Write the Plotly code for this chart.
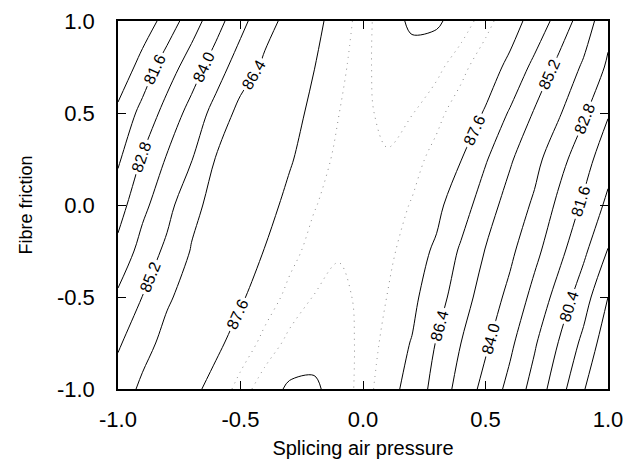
import plotly.graph_objects as go

# Axes (coded factor levels)
pressure = [-1.0, -0.9, -0.8, -0.7, -0.6, -0.5, -0.4, -0.3, -0.2, -0.1, 0.0,
            0.1, 0.2, 0.3, 0.4, 0.5, 0.6, 0.7, 0.8, 0.9, 1.0]
friction = [-1.0, -0.75, -0.5, -0.25, 0.0, 0.25, 0.5, 0.75, 1.0]

# Response values, one list per friction level
resp_f_m100 = [85.84, 86.6, 87.0, 87.38, 87.9, 88.36, 88.66, 88.85, 88.85, 88.68, 88.39,
               87.95, 87.25, 85.92, 84.77, 83.61, 82.45, 81.15, 79.68, 78.1, 76.47]
resp_f_m075 = [85.03, 86.05, 86.7, 87.0, 87.42, 87.94, 88.33, 88.58, 88.68, 88.63, 88.43,
               88.08, 87.55, 86.33, 85.2, 84.19, 83.04, 81.74, 80.34, 78.9, 77.27]
resp_f_m050 = [84.21, 85.22, 86.27, 86.78, 87.05, 87.5, 87.98, 88.32, 88.51, 88.56, 88.45,
               88.19, 87.85, 86.95, 85.71, 84.69, 83.69, 82.43, 81.14, 79.74, 78.0]
resp_f_m025 = [83.13, 84.46, 85.47, 86.47, 86.88, 87.17, 87.63, 88.06, 88.35, 88.48, 88.46,
               88.30, 88.0, 87.45, 86.22, 85.15, 84.25, 83.13, 81.94, 80.65, 79.14]
resp_f_000 = [82.29, 83.69, 84.79, 86.1, 86.75, 87.05, 87.33, 87.8, 88.17, 88.40, 88.47,
              88.40, 88.17, 87.85, 87.0, 85.73, 84.74, 83.81, 82.53, 81.42, 80.13]
resp_f_p025 = [81.42, 82.92, 84.1, 85.14, 86.46, 86.86, 87.2, 87.52, 87.98, 88.30, 88.46,
               88.48, 88.35, 88.06, 87.63, 86.52, 85.34, 84.37, 83.22, 82.09, 80.89]
resp_f_p050 = [80.7, 81.95, 83.25, 84.41, 85.65, 86.75, 87.02, 87.3, 87.79, 88.19, 88.45,
               88.56, 88.51, 88.32, 87.98, 87.54, 86.26, 85.1, 84.12, 82.97, 81.7]
resp_f_p075 = [79.44, 80.91, 82.2, 83.4, 84.6, 85.83, 86.6, 87.05, 87.58, 88.08, 88.43,
               88.63, 88.68, 88.58, 88.33, 87.93, 87.44, 86.04, 84.9, 83.83, 82.62]
resp_f_p100 = [79.25, 79.64, 80.92, 82.23, 83.53, 84.81, 86.05, 86.7, 87.36, 87.95, 88.39,
               88.68, 88.85, 88.85, 88.66, 88.36, 87.9, 87.33, 85.87, 84.67, 83.18]

response = [resp_f_m100, resp_f_m075, resp_f_m050, resp_f_m025, resp_f_000,
            resp_f_p025, resp_f_p050, resp_f_p075, resp_f_p100]

tick_vals = [-1.0, -0.5, 0.0, 0.5, 1.0]
tick_text = ["-1.0", "-0.5", "0.0", "0.5", "1.0"]

FONT = "Liberation Sans, Arial, sans-serif"

fig = go.Figure()

# labelled levels
fig.add_trace(go.Contour(
    x=pressure, y=friction, z=response, showscale=False,
    contours=dict(start=80.4, end=87.6, size=1.2, coloring="none",
                  showlabels=True, labelformat=".1f",
                  labelfont=dict(size=16, color="black", family=FONT)),
    line=dict(color="black", width=1), hoverinfo="skip"))

# unlabelled outer levels
fig.add_trace(go.Contour(
    x=pressure, y=friction, z=response, showscale=False,
    contours=dict(start=78.0, end=79.2, size=1.2, coloring="none"),
    line=dict(color="black", width=1), hoverinfo="skip"))

# small closed regions at the ridge ends
fig.add_trace(go.Contour(
    x=pressure, y=friction, z=response, showscale=False,
    contours=dict(start=88.8, end=88.8, size=1.0, coloring="none"),
    line=dict(color="black", width=1), hoverinfo="skip"))

# faint dotted intermediate levels
fig.add_trace(go.Contour(
    x=pressure, y=friction, z=response, showscale=False,
    contours=dict(start=88.2, end=88.5, size=0.3, coloring="none"),
    line=dict(color="#888888", width=1, dash="1px,5px"), hoverinfo="skip"))

axis_common = dict(
    range=[-1, 1], tickvals=tick_vals, ticktext=tick_text,
    ticks="inside", ticklen=8, tickwidth=1.2, tickcolor="black",
    showline=True, linecolor="black", linewidth=1.5, mirror="ticks",
    showgrid=False, zeroline=False, automargin=False,
    tickfont=dict(family=FONT, size=22, color="black"),
)

fig.update_layout(
    width=624, height=459,
    margin=dict(l=118, r=16, t=21, b=70),
    paper_bgcolor="white", plot_bgcolor="white",
    showlegend=False,
    xaxis=dict(axis_common, ticklabelstandoff=10,
               title=dict(text="Splicing air pressure",
                          font=dict(family=FONT, size=20, color="black"),
                          standoff=13)),
    yaxis=dict(axis_common, ticklabelstandoff=17,
               title=dict(text="Fibre friction",
                          font=dict(family=FONT, size=18, color="black"),
                          standoff=20)),
)

fig.write_html("out.html")
